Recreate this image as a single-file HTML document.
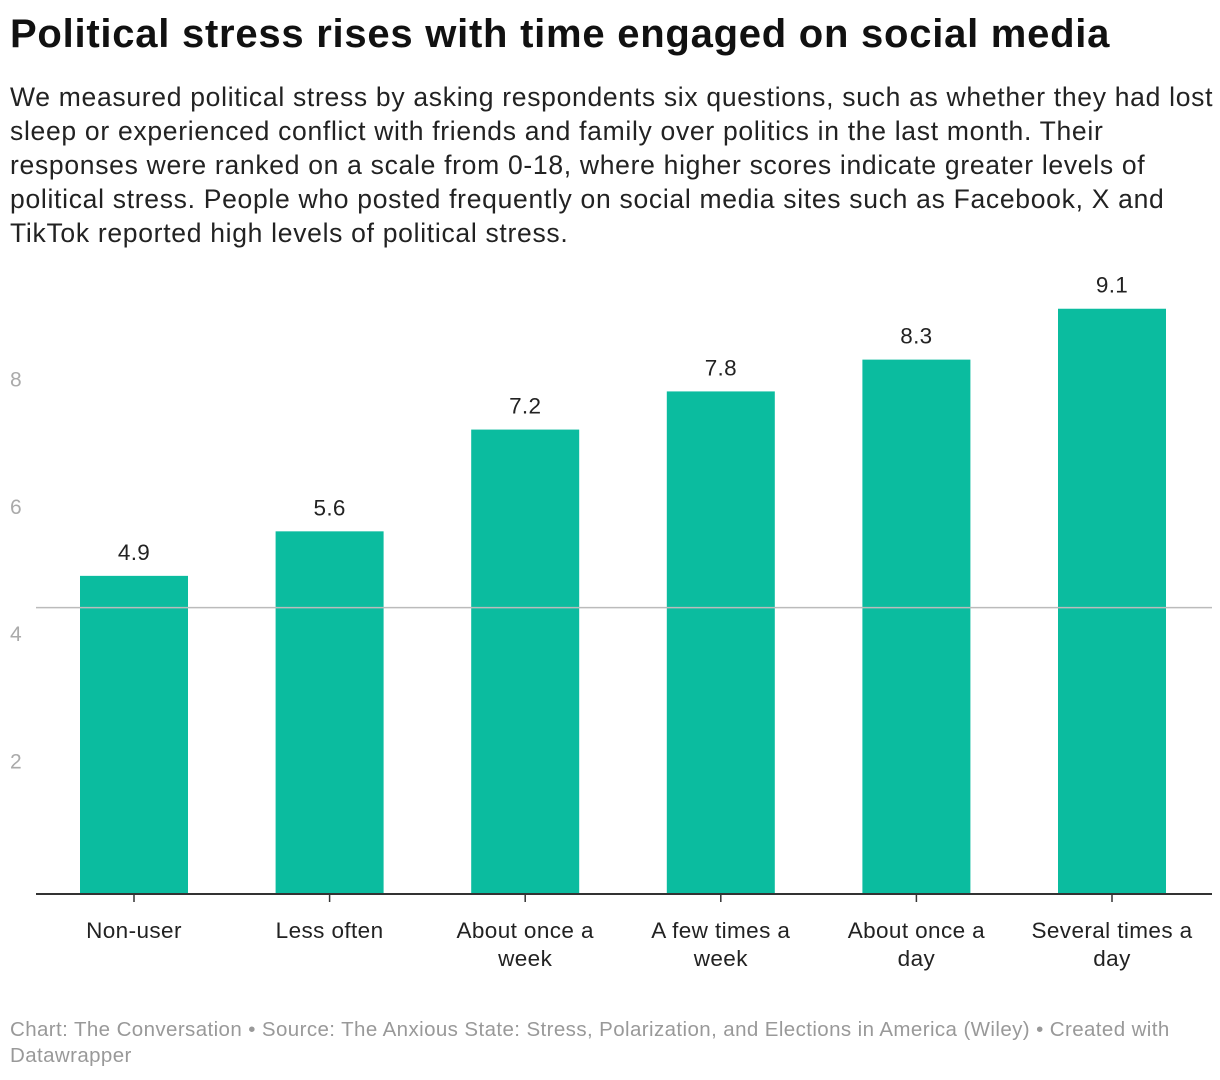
<!DOCTYPE html>
<html><head><meta charset="utf-8"><style>
body{margin:0;width:1220px;height:1080px;background:#fff;font-family:"Liberation Sans",sans-serif;position:relative;overflow:hidden}
#title{position:absolute;left:10px;top:12px;font-size:40px;font-weight:bold;color:#111;letter-spacing:0.75px;white-space:nowrap}
#sub{position:absolute;left:10px;top:80px;width:1215px;font-size:26.5px;line-height:34px;color:#222;letter-spacing:0.7px;white-space:nowrap}
#foot{position:absolute;left:10px;top:1017px;width:1210px;font-size:20.5px;line-height:26px;color:#999;letter-spacing:0.4px;white-space:nowrap}
svg{position:absolute;left:0;top:0}
</style></head><body>
<div id="title">Political stress rises with time engaged on social media</div>
<div id="sub">We measured political stress by asking respondents six questions, such as whether they had lost<br>sleep or experienced conflict with friends and family over politics in the last month. Their<br>responses were ranked on a scale from 0-18, where higher scores indicate greater levels of<br>political stress. People who posted frequently on social media sites such as Facebook, X and<br>TikTok reported high levels of political stress.</div>
<svg id="chart" width="1220" height="1080"></svg>
<div id="foot">Chart: The Conversation • Source: The Anxious State: Stress, Polarization, and Elections in America (Wiley) • Created with<br>Datawrapper</div>
<script>
const categories=[["Non-user"],["Less often"],["About once a","week"],["A few times a","week"],["About once a","day"],["Several times a","day"]];
const values=[4.9,5.6,7.2,7.8,8.3,9.1];
const yTicks=[2,4,6,8];
const refValue=4.4;
const svg=document.getElementById('chart');
const NS='http://www.w3.org/2000/svg';
const zeroY=887.5,unit=63.6,baseY=894;
const y=v=>zeroY-v*unit;
const x=i=>134+i*195.6;
const bw=108;
function mk(t,a){const e=document.createElementNS(NS,t);for(const k in a)e.setAttribute(k,a[k]);svg.appendChild(e);return e;}
yTicks.forEach(t=>{const e=mk('text',{x:10,y:y(t)+8,'font-size':21,fill:'#aaa','font-family':'Liberation Sans, sans-serif'});e.textContent=t;

});
values.forEach((v,i)=>{
const r=mk('rect',{x:x(i)-bw/2,y:y(v),width:bw,height:baseY-y(v),fill:'#0bbc9f'});


const l=mk('text',{x:x(i),y:y(v)-16,'text-anchor':'middle','font-size':22.5,fill:'#222','letter-spacing':'0.3','font-family':'Liberation Sans, sans-serif'});l.textContent=v.toFixed(1);


mk('line',{x1:x(i),x2:x(i),y1:baseY,y2:baseY+8,stroke:'#333','stroke-width':1.5});
categories[i].forEach((s,j)=>{const c=mk('text',{x:x(i),y:938+j*28,'text-anchor':'middle','font-size':22.5,fill:'#222','letter-spacing':'0.4','font-family':'Liberation Sans, sans-serif'});c.textContent=s;

});
});
const ref=mk('line',{x1:36,x2:1212,y1:y(refValue),y2:y(refValue),stroke:'#bbb','stroke-width':1.5});


const ax=mk('line',{x1:36,x2:1212,y1:baseY,y2:baseY,stroke:'#333','stroke-width':2});


</script>
</body></html>
